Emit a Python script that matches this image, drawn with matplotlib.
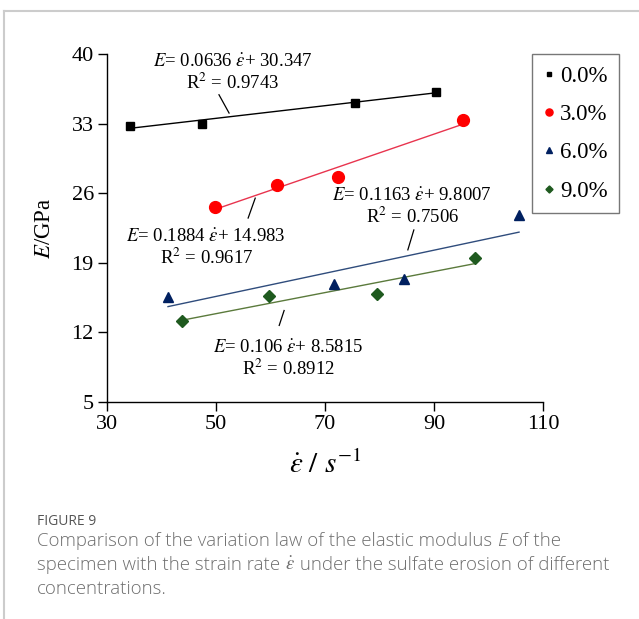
import matplotlib
matplotlib.use("Agg")
import matplotlib.pyplot as plt
from matplotlib.lines import Line2D

plt.rcParams['font.family'] = ['Liberation Serif', 'DejaVu Serif']
plt.rcParams['mathtext.fontset'] = 'stix'

# data
labels = ['0.0%', '3.0%', '6.0%', '9.0%']
x_0 = [34.2, 47.5, 75.5, 90.4]
y_0 = [32.8, 33.0, 35.1, 36.2]
x_3 = [49.9, 61.2, 72.4, 95.4]
y_3 = [24.6, 26.85, 27.6, 33.4]
x_6 = [41.2, 71.7, 84.5, 105.6]
y_6 = [15.6, 16.9, 17.4, 23.8]
x_9 = [43.7, 59.7, 79.5, 97.6]
y_9 = [13.1, 15.7, 15.9, 19.5]

slopes = [0.0636, 0.1884, 0.1163, 0.106]
intercepts = [30.347, 14.983, 9.8007, 8.5815]
r2 = ['0.9743', '0.9617', '0.7506', '0.8912']

xs = [x_0, x_3, x_6, x_9]
ys = [y_0, y_3, y_6, y_9]
markers = ['s', 'o', '^', 'D']
msizes = [6, 8.5, 7.5, 6]
mcolors = ['black', '#ff0000', '#002060', '#1f5a1f']
lcolors = ['black', '#e8344e', '#2f4c7c', '#5b7a3c']

fig = plt.figure(figsize=(6.39, 6.19), dpi=100)
ax = fig.add_axes([0.1674, 0.3506, 0.6824, 0.5622])

for i in range(4):
    x0, x1 = min(xs[i]), max(xs[i])
    ax.plot([x0, x1], [slopes[i] * x0 + intercepts[i], slopes[i] * x1 + intercepts[i]],
            color=lcolors[i], lw=1.0, zorder=2)
    ax.plot(xs[i], ys[i], ls='none', marker=markers[i], ms=msizes[i],
            color=mcolors[i], zorder=3)

ax.set_xlim(30, 110)
ax.set_ylim(5, 40)
ax.set_xticks([30, 50, 70, 90, 110])
ax.set_yticks([5, 12, 19, 26, 33, 40])
for s in ['top', 'right']:
    ax.spines[s].set_visible(False)
ax.spines['left'].set_linewidth(1.0)
ax.spines['bottom'].set_linewidth(1.0)
ax.tick_params(direction='out', length=6.5, width=1.0, labelsize=16, pad=3)

ax.set_xlabel(r'$\dot{\varepsilon}\ /\ s^{-1}$', fontsize=21, labelpad=12)
ax.set_ylabel(r'$E$/GPa', fontsize=16.5, labelpad=12)

# fit equations with leader lines
txt_pos = [(53.1, 39.2), (48.2, 21.6), (86.0, 25.7), (63.2, 10.4)]
leaders = [((50.55, 35.9), (52.4, 34.06)), ((55.9, 23.5), (57.2, 25.5)),
           ((85.2, 20.3), (86.3, 22.3)), ((61.6, 12.7), (62.5, 14.2))]
for i in range(4):
    tx, ty = txt_pos[i]
    ax.text(tx, ty, r'$E$= %s $\dot{\varepsilon}$+ %s' % (slopes[i], intercepts[i]),
            ha='center', va='center', fontsize=13.5)
    ax.text(tx, ty - 2.1, r'R$^2$ = %s' % r2[i], ha='center', va='center', fontsize=13.5)
    (a, b), (c, d) = leaders[i]
    ax.plot([a, c], [b, d], color='black', lw=0.9)

handles = [Line2D([], [], ls='none', marker=markers[i], ms=msizes[i] * 0.6,
                  color=mcolors[i]) for i in range(4)]
leg = fig.legend(handles, labels, loc='upper left', bbox_to_anchor=(0.832, 0.912),
                 fontsize=16.5, frameon=True, fancybox=False, handlelength=0.5,
                 handletextpad=0.25, labelspacing=0.75, borderpad=0.5, borderaxespad=0)
leg.get_frame().set_edgecolor('#555555')
leg.get_frame().set_linewidth(1.0)

# page border and caption
fig.add_artist(Line2D([0.007, 0.007], [0.0, 0.982], color='#cccccc', lw=1.5))
fig.add_artist(Line2D([0.007, 1.0], [0.982, 0.982], color='#cccccc', lw=1.5))
fig.text(0.058, 0.157, 'FIGURE 9', fontsize=10, color='#555555', family='Open Sans',
         va='center')

# caption lines made of pieces so that E can be italic in the sans font
caption = [[('Comparison of the variation law of the elastic modulus ', 'normal'),
            ('E', 'italic'), (' of the', 'normal')],
           [('specimen with the strain rate ', 'normal'), (r'$\dot{\varepsilon}$', 'math'),
            (' under the sulfate erosion of different', 'normal')],
           [('concentrations.', 'normal')]]
renderer = fig.canvas.get_renderer()
for k, parts in enumerate(caption):
    xpos = 0.058
    for txt, style in parts:
        t = fig.text(xpos, 0.126 - k * 0.0388, txt, fontsize=13.4, color='#6e6e6e',
                     family='Open Sans', fontweight='light',
                     style='italic' if style == 'italic' else 'normal', va='center')
        bb = t.get_window_extent(renderer)
        xpos += bb.width / fig.bbox.width

fig.savefig('out.png', dpi=100)
